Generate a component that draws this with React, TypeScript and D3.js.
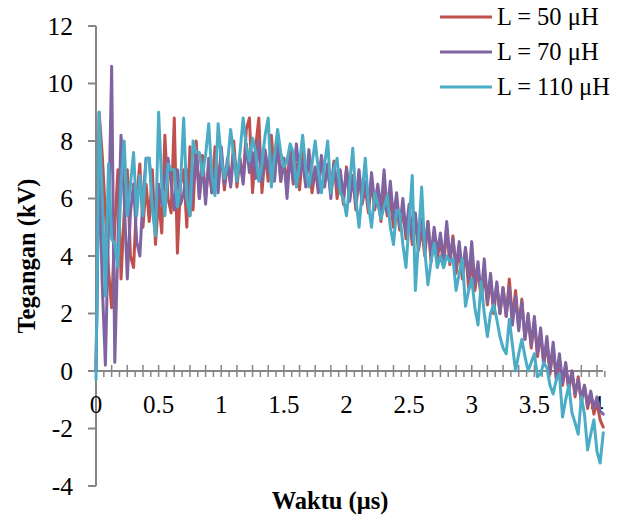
import React from "react";
import * as d3 from "d3";

const timeStep = 0.025;
const seriesNames = ["L = 50 μH", "L = 70 μH", "L = 110 μH"];
const seriesColors = ["#C0504D", "#8064A2", "#4BACC6"];

const red50 = [
  0.0, 9.0, 7.5, 5.5, 3.5, 2.2, 5.0, 7.0, 3.2, 5.5, 7.0, 4.0, 3.6, 6.0, 7.2, 5.0, 6.5, 5.2, 7.0, 4.4,
  6.0, 4.8, 8.2, 6.0, 5.5, 8.8, 4.1, 6.5, 7.0, 5.0, 7.8, 5.6, 8.0, 6.0, 7.5, 6.0, 7.2, 6.2, 7.8, 6.4,
  7.6, 6.3, 7.2, 6.5, 8.0, 6.4, 7.4, 6.6, 8.4, 8.8, 6.2, 7.8, 8.8, 6.2, 7.6, 6.6, 8.2, 6.8, 7.9, 6.6,
  7.4, 6.4, 7.8, 6.5, 7.2, 6.3, 7.6, 6.8, 7.3, 6.2, 7.0, 6.4, 7.4, 6.6, 7.0, 6.2, 7.3, 6.0, 6.9, 5.8,
  7.1, 6.0, 6.8, 5.6, 6.9, 5.8, 6.4, 5.5, 6.6, 5.6, 6.2, 5.2, 6.4, 5.4, 6.0, 5.0, 5.8, 4.9, 5.6, 4.6,
  5.5, 4.4, 5.2, 4.2, 5.0, 4.0, 5.2, 3.8, 4.8, 3.9, 4.6, 3.6, 5.0, 3.7, 4.7, 3.4, 4.3, 3.2, 4.2, 2.9,
  3.8, 2.8, 3.6, 2.5, 3.4, 2.3, 3.2, 2.0, 3.0, 2.0, 2.9, 1.9, 3.2, 1.8, 2.8, 1.5, 2.5, 1.1, 1.9, 0.8,
  1.7, 0.5, 1.3, 0.2, 1.0, -0.1, 0.8, -0.3, 0.4, -0.5, 0.2, -0.7, 0.0, -0.9, -0.2, -1.1, -0.5, -1.3, -0.8, -1.5,
  -1.1, -1.7, -1.95,
];

const purple70 = [
  0.0, 7.5, 3.0, 0.2, 5.0, 10.6, 0.3, 4.5, 8.2, 6.0, 3.2, 5.5, 6.5, 4.5, 4.0, 6.0, 7.4, 7.4, 6.0, 5.2,
  6.5, 5.8, 6.8, 7.4, 6.5, 5.6, 7.0, 5.8, 6.2, 7.0, 5.4, 6.5, 7.6, 6.0, 7.2, 5.8, 7.4, 6.2, 7.0, 6.2,
  7.8, 6.5, 7.4, 6.4, 7.6, 6.8, 7.3, 6.5, 7.9, 6.9, 7.6, 6.7, 8.0, 6.6, 7.7, 6.9, 7.5, 6.6, 8.0, 6.6,
  7.4, 6.0, 7.5, 6.6, 7.9, 6.8, 7.3, 6.4, 7.7, 6.5, 7.1, 6.2, 7.5, 6.4, 7.2, 6.0, 7.2, 6.4, 7.0, 6.0,
  7.0, 5.9, 6.7, 5.8, 7.0, 5.9, 6.6, 5.7, 6.9, 5.8, 6.5, 5.6, 7.0, 5.5, 6.6, 5.3, 6.2, 5.0, 6.0, 4.8,
  5.8, 4.6, 5.5, 4.3, 5.3, 4.2, 5.2, 4.0, 5.0, 4.1, 4.8, 3.8, 5.2, 3.9, 4.6, 3.6, 4.5, 3.4, 4.3, 3.2,
  4.5, 3.0, 3.8, 2.6, 3.9, 2.4, 3.4, 2.2, 3.1, 2.0, 2.9, 1.9, 2.9, 1.6, 2.6, 1.4, 2.4, 1.1, 2.0, 0.9,
  1.9, 0.6, 1.5, 0.3, 1.2, 0.0, 1.0, -0.2, 0.6, -0.4, 0.3, -0.6, 0.0, -0.8, -0.3, -1.0, -0.5, -1.2, -0.7, -1.3,
  -0.9, -1.4, -1.5,
];

const cyan110 = [
  -0.3, 9.0, 6.0, 2.6, 7.2, 4.6, 4.4, 3.6, 6.5, 8.0, 5.4, 6.5, 7.6, 5.4, 6.8, 5.4, 7.4, 7.4, 5.6, 4.7,
  9.0, 6.5, 5.4, 7.2, 7.0, 7.0, 5.7, 6.5, 8.8, 6.0, 5.4, 8.0, 7.6, 7.6, 6.8, 7.5, 8.6, 6.8, 6.1, 8.6,
  7.4, 6.7, 7.2, 8.4, 7.5, 6.6, 7.6, 8.8, 7.8, 7.3, 8.1, 7.6, 6.6, 7.2, 8.2, 8.8, 6.4, 7.5, 8.4, 7.6,
  7.1, 7.3, 7.9, 7.6, 6.4, 7.2, 8.2, 7.0, 6.4, 7.2, 8.0, 7.0, 6.2, 7.2, 8.0, 6.2, 7.0, 7.4, 6.2, 6.0,
  5.4, 6.5, 7.75, 6.0, 5.0, 6.2, 7.4, 5.8, 5.0, 6.2, 5.8, 5.3, 5.7, 6.1, 5.0, 4.4, 5.6, 5.5, 4.4, 3.6,
  5.2, 6.8, 2.8, 4.6, 6.4, 4.2, 3.0, 3.8, 4.45, 3.6, 4.0, 3.6, 4.0, 3.8, 3.9, 2.8, 3.4, 3.9, 2.25, 2.8,
  3.2, 2.2, 1.6, 3.1, 2.0, 1.2, 2.0, 2.3, 1.8, 1.2, 0.8, 0.6, 1.8, 0.9, 0.0, 0.6, 1.1, 0.5, 0.0, 0.3,
  0.6, -0.2, -0.1, 0.3, 0.1, -0.5, -0.8, -0.3, -0.1, -1.6, -1.0, -0.5, -1.45, -1.8, -2.2, -0.9, -1.5, -2.75, -2.2, -1.7,
  -2.8, -3.2, -2.15,
];

const seriesValues = [red50, purple70, cyan110];
const yTicks = [-4, -2, 0, 2, 4, 6, 8, 10, 12];
const xTickLabels = [0, 0.5, 1, 1.5, 2, 2.5, 3, 3.5, 4];

export default function App() {
  const W = 619;
  const H = 529;
  const x = d3.scaleLinear().domain([0, 4]).range([96, 597]);
  const y = d3.scaleLinear().domain([-4, 12]).range([486, 26]);
  const line = d3
    .line<number>()
    .x((_, i) => x(i * timeStep))
    .y((d) => y(d));

  const axisColor = "#868686";
  const font = "'Liberation Serif', 'Times New Roman', serif";

  const minorCount = Math.round(4.05 / 0.0625);
  const ticks = d3.range(1, minorCount + 1).map((k) => k * 0.0625);

  return (
    <svg width={W} height={H} style={{ position: "absolute", left: 0, top: 0 }} fontFamily={font}>
      <rect width={W} height={H} fill="#fff" />
      {/* y axis */}
      <line x1={96} x2={96} y1={y(12)} y2={y(-4)} stroke={axisColor} strokeWidth={2} />
      {yTicks.map((t) => (
        <g key={t}>
          <line x1={88} x2={96} y1={y(t)} y2={y(t)} stroke={axisColor} strokeWidth={2} />
          <text x={73} y={y(t)} dy="0.34em" textAnchor="end" fontSize={25.5} fill="#000">
            {t}
          </text>
        </g>
      ))}
      {/* x axis at y=0 */}
      <line x1={96} x2={603} y1={y(0)} y2={y(0)} stroke={axisColor} strokeWidth={2} />
      {ticks.map((t, k) => {
        const major = (k + 1) % 2 === 0;
        return (
          <line
            key={k}
            x1={x(t)}
            x2={x(t)}
            y1={major ? y(0) - 6 : y(0)}
            y2={y(0) + 6}
            stroke={axisColor}
            strokeWidth={1.5}
          />
        );
      })}
      {xTickLabels.map((t) => (
        <text key={t} x={x(t)} y={413} textAnchor="middle" fontSize={25} fill="#000">
          {t}
        </text>
      ))}
      {/* series */}
      {seriesValues.map((vals, s) => (
        <path
          key={s}
          d={line(vals) || ""}
          fill="none"
          stroke={seriesColors[s]}
          strokeWidth={3}
          strokeLinejoin="round"
          strokeLinecap="round"
        />
      ))}
      {/* legend */}
      {seriesNames.map((n, s) => (
        <g key={n} transform={`translate(0, ${17 + s * 35})`}>
          <line x1={440} x2={492} y1={0} y2={0} stroke={seriesColors[s]} strokeWidth={3} />
          <text x={497} y={0} dy="0.33em" fontSize={24.5} fill="#000">
            {n}
          </text>
        </g>
      ))}
      {/* axis titles */}
      <text
        transform="translate(35, 256) rotate(-90)"
        textAnchor="middle"
        fontSize={24.5}
        fontWeight="bold"
        fill="#000"
      >
        Tegangan (kV)
      </text>
      <text x={330} y={509} textAnchor="middle" fontSize={24.5} fontWeight="bold" fill="#000">
        Waktu (μs)
      </text>
    </svg>
  );
}
